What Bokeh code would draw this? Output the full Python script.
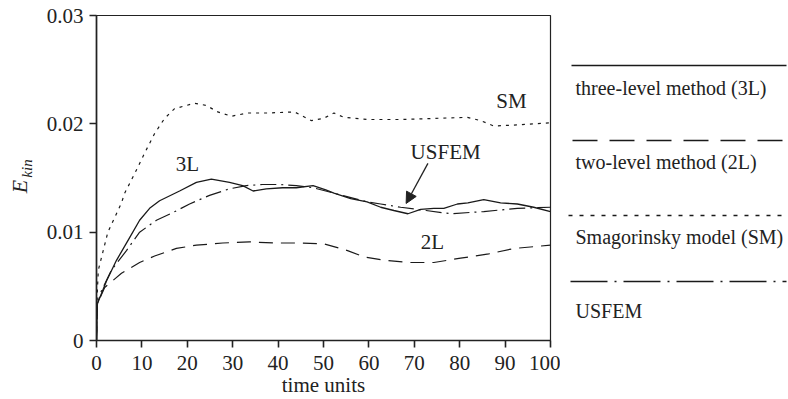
import math
from bokeh.plotting import figure
from bokeh.layouts import row
from bokeh.models import (Range1d, FixedTicker, Label, Arrow, NormalHead)
from bokeh.core.properties import value
from bokeh.embed import file_html
from bokeh.resources import INLINE

# ---------------- data ----------------
t_3l = [0, 0.2, 2.2, 4.4, 7.3, 9.5, 11.7, 13.9, 18.3, 22, 25.3, 29.3, 32.2, 34.5, 37.4, 41, 44,
        47.7, 50.5, 52.3, 56, 59.6, 62.6, 65.5, 68.6, 71.4, 74.3, 76.5, 79.5, 81.8, 85.3, 89,
        92.7, 96.3, 100]
e_3l = [0, 0.0034, 0.0055, 0.0074, 0.0095, 0.0111, 0.0122, 0.0129, 0.0138, 0.0146, 0.0149,
        0.0146, 0.0143, 0.0138, 0.0140, 0.0141, 0.0141, 0.0143, 0.0139, 0.0136, 0.0131, 0.0128,
        0.0123, 0.0120, 0.0117, 0.0121, 0.0122, 0.0122, 0.0126, 0.0127, 0.0130, 0.0127, 0.0126,
        0.0123, 0.0119]

t_2l = [0, 0.2, 1.8, 5.5, 9.5, 12.8, 17.6, 22, 27.8, 33.7, 39.6, 45.3, 50.3, 55.3, 59, 63.7,
        68.6, 74.3, 80.2, 86.4, 92, 100]
e_2l = [0, 0.0034, 0.0049, 0.0062, 0.0072, 0.0078, 0.0085, 0.0088, 0.0090, 0.0091, 0.0090,
        0.0090, 0.0089, 0.0083, 0.0077, 0.0074, 0.0072, 0.0072, 0.0076, 0.0080, 0.0085, 0.0088]

t_sm = [0, 0.2, 0.4, 2.5, 5.5, 6.2, 8.4, 10.6, 12.8, 15, 17.2, 21.6, 24.2, 26.7, 29.7, 33.3,
        37.8, 43.6, 45, 47.3, 50, 52.3, 54.5, 59.7, 67, 74.3, 81.7, 84.6, 87.5, 92.7, 100]
e_sm = [0, 0.0047, 0.0065, 0.0100, 0.0127, 0.0136, 0.0154, 0.0173, 0.0191, 0.0205, 0.0214,
        0.0219, 0.0217, 0.0211, 0.0207, 0.0210, 0.0210, 0.0211, 0.0208, 0.0203, 0.0205, 0.0210,
        0.0206, 0.0204, 0.0204, 0.0205, 0.0206, 0.0203, 0.0198, 0.0199, 0.0201]

t_us = [0, 0.2, 1.1, 3.3, 6.6, 9.5, 13.2, 16.8, 20.5, 24.9, 29.3, 33, 36.6, 40.3, 44, 47.7,
        52.3, 59.6, 62.6, 67, 72.6, 78, 85.3, 92.7, 100]
e_us = [0, 0.0034, 0.0046, 0.0065, 0.0083, 0.0100, 0.0111, 0.0118, 0.0126, 0.0134, 0.0140,
        0.0143, 0.0144, 0.0144, 0.0143, 0.0141, 0.0136, 0.0128, 0.0126, 0.0123, 0.0120, 0.0117,
        0.0119, 0.0122, 0.0123]

x_ticks = [0, 10, 20, 30, 40, 50, 60, 70, 80, 90, 100]
y_ticks = [0, 0.01, 0.02, 0.03]
y_tick_labels = ["0", "0.01", "0.02", "0.03"]

legend_labels = ["three-level method (3L)", "two-level method (2L)",
                 "Smagorinsky model (SM)", "USFEM"]

FONT = "Liberation Serif"
FS = "21px"
H = 399
TOP, BOT = 15, 340          # pixel rows of the (shared, aligned) plot frame
TC = "#222222"
LC = "#1a1a1a"

# ---------------- y-label strip (E_kin, rotated) ----------------
yl = figure(width=43, height=H, output_backend="svg", toolbar_location=None,
            x_range=Range1d(0, 43), y_range=Range1d(BOT, TOP),
            min_border=0, min_border_top=TOP, x_axis_type=None, y_axis_type=None)
yl.outline_line_color = None
yl.xgrid.visible = False
yl.ygrid.visible = False
yl.text(x=[19], y=[186], text=["E"], angle=math.pi / 2, text_font=value(FONT),
        text_font_size="22px", text_font_style="italic", text_align="center",
        text_baseline="middle", text_color=TC)
yl.text(x=[26.5], y=[168], text=["kin"], angle=math.pi / 2, text_font=value(FONT),
        text_font_size="15px", text_font_style="italic", text_align="center",
        text_baseline="middle", text_color=TC)

# ---------------- main figure ----------------
p = figure(width=517, height=H, output_backend="svg", toolbar_location=None,
           x_range=Range1d(0, 100), y_range=Range1d(0, 0.03),
           min_border_left=52, min_border_right=10, min_border_top=TOP, min_border_bottom=0)
p.background_fill_color = "white"
p.border_fill_color = "white"
p.outline_line_color = TC
p.outline_line_width = 1.2
p.xgrid.visible = False
p.ygrid.visible = False

for ax in (p.xaxis[0], p.yaxis[0]):
    ax.axis_line_color = TC
    ax.axis_line_width = 1.6
    ax.major_tick_line_color = TC
    ax.major_tick_line_width = 1.6
    ax.major_tick_in = 0
    ax.major_tick_out = 7
    ax.minor_tick_line_color = None
    ax.major_label_text_font = FONT
    ax.major_label_text_font_size = FS
    ax.major_label_text_color = TC

p.xaxis.ticker = FixedTicker(ticks=x_ticks)
p.xaxis.major_label_standoff = 8
p.xaxis.axis_label = "time units"
p.xaxis.axis_label_text_font = FONT
p.xaxis.axis_label_text_font_size = FS
p.xaxis.axis_label_text_font_style = "normal"
p.xaxis.axis_label_text_color = TC
p.xaxis.axis_label_standoff = 0

p.yaxis.ticker = FixedTicker(ticks=y_ticks)
p.yaxis.major_label_overrides = {v: s for v, s in zip(y_ticks, y_tick_labels)}
p.yaxis.major_label_standoff = 6
p.yaxis.major_label_orientation = "horizontal"

p.line(t_sm, e_sm, line_color=LC, line_width=1.2, line_dash="3 5")
p.line(t_2l, e_2l, line_color=LC, line_width=1.2, line_dash="14 8")
p.line(t_us, e_us, line_color=LC, line_width=1.2, line_dash="16 5 2 5")
p.line(t_3l, e_3l, line_color=LC, line_width=1.3)

# in-plot annotations
def dlabel(x, y, text):
    p.add_layout(Label(x=x, y=y, text=text, text_font=FONT, text_font_size=FS,
                       text_align="center", text_baseline="middle", text_color=TC))

dlabel(20, 0.0163, "3L")
dlabel(91.4, 0.0221, "SM")
dlabel(76.9, 0.0174, "USFEM")
dlabel(74, 0.0091, "2L")

p.add_layout(Arrow(x_start=73, y_start=0.01635, x_end=68.2, y_end=0.01265,
                   line_color=TC, line_width=1.3,
                   end=NormalHead(size=11, fill_color=TC, line_color=TC)))

# ---------------- legend figure ----------------
leg = figure(width=228, height=H, output_backend="svg", toolbar_location=None,
             x_range=Range1d(560, 788), y_range=Range1d(BOT, TOP),
             min_border=0, min_border_top=TOP, x_axis_type=None, y_axis_type=None)
leg.outline_line_color = None
leg.xgrid.visible = False
leg.ygrid.visible = False
leg.background_fill_color = "white"
leg.border_fill_color = "white"

sample_y = [65, 140, 215, 281]
sample_x0 = [571, 572, 568, 570]
text_y = [87, 161, 236, 310]
dashes = ["solid", "25 12", "4 7", "37 7 2 7"]
for ys, x0, ty, dash, lab in zip(sample_y, sample_x0, text_y, dashes, legend_labels):
    leg.line([x0, 786], [ys, ys], line_color=LC, line_width=1.3, line_dash=dash)
    leg.text(x=[575], y=[ty], text=[lab], text_font=value(FONT), text_font_size="20px",
             text_align="left", text_baseline="middle", text_color=TC)

layout = row(yl, p, leg)
open("out.html", "w").write(file_html(layout, INLINE))
